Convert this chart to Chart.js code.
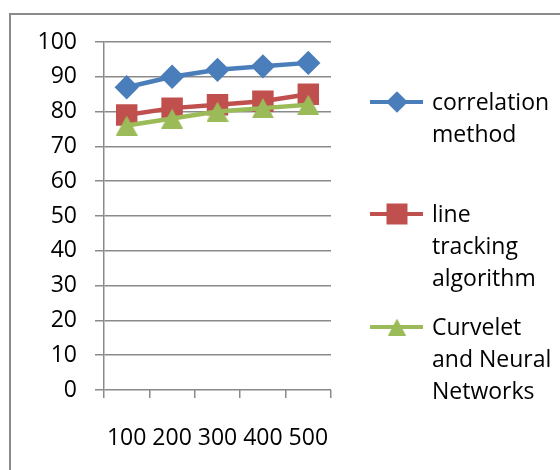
<!DOCTYPE html>
<html>
<head>
<meta charset="utf-8">
<script src="https://cdn.jsdelivr.net/npm/chart.js@4.4.1/dist/chart.umd.min.js"></script>
<style>
  html, body { margin: 0; padding: 0; background: #fff; }
  #wrap { width: 560px; height: 470px; }
</style>
</head>
<body>
<div id="wrap"><canvas id="myChart" width="560" height="470"></canvas></div>
<script>
// datos
const categories = ['100', '200', '300', '400', '500'];
const correlationMethod = [87, 90, 92, 93, 94];
const lineTracking = [79, 81, 82, 83, 85];
const curveletNeural = [76, 78, 80, 81, 82];
const legendLines = [
    ['correlation', 'method'],
    ['line', 'tracking', 'algorithm'],
    ['Curvelet', 'and Neural', 'Networks']
];

const FONT = "'Open Sans', sans-serif";

// triangulo centrado en su caja (como Excel)
function makeTriangle(color, w, h) {
    const cv = document.createElement('canvas');
    cv.width = w;
    cv.height = h;
    const c = cv.getContext('2d');
    c.fillStyle = color;
    c.beginPath();
    c.moveTo(w / 2, 0);
    c.lineTo(w, h);
    c.lineTo(0, h);
    c.closePath();
    c.fill();
    return cv;
}
const triPoint = makeTriangle('#9bbb59', 22, 20);
const triLegend = makeTriangle('#9bbb59', 18, 17);

// marco gris y leyenda a la derecha (multilinea)
const frameAndLegend = {
    id: 'frameAndLegend',
    beforeDraw(chart) {
        const c = chart.ctx;
        c.save();
        c.strokeStyle = '#8a8a8a';
        c.lineWidth = 2;
        c.beginPath();
        c.moveTo(10, 480);
        c.lineTo(10, 14);
        c.lineTo(570, 14);
        c.stroke();
        c.restore();
    },
    afterDraw(chart) {
        const c = chart.ctx;
        const tops = [103, 215, 328];
        const sizes = [8, 12, 10];
        c.save();
        chart.data.datasets.forEach((ds, i) => {
            const y = tops[i] - 1;
            c.strokeStyle = ds.borderColor;
            c.lineWidth = 4;
            c.beginPath();
            c.moveTo(370, y);
            c.lineTo(423, y);
            c.stroke();
            c.fillStyle = ds.borderColor;
            c.strokeStyle = ds.borderColor;
            const style = i === 2 ? triLegend : ds.pointStyle;
            Chart.helpers.drawPoint(c, { pointStyle: style, radius: sizes[i], rotation: 0, borderWidth: 1 }, 397, y);
            c.fillStyle = '#000';
            c.font = '23px ' + FONT;
            c.textBaseline = 'middle';
            c.textAlign = 'left';
            legendLines[i].forEach((t, k) => {
                c.fillText(t, 432, tops[i] + k * 32);
            });
        });
        c.restore();
    }
};

const ctx = document.getElementById('myChart');

new Chart(ctx, {
    type: 'line',
    data: {
        labels: categories,
        datasets: [{
            label: legendLines[0].join(' '),
            data: correlationMethod,
            order: 2,
            borderColor: '#4a7ebb',
            backgroundColor: '#4a7ebb',
            borderWidth: 4.5,
            pointStyle: 'rectRot',
            pointRadius: 9,
            pointHoverRadius: 9
        }, {
            label: legendLines[1].join(' '),
            data: lineTracking,
            order: 1,
            borderColor: '#c0504d',
            backgroundColor: '#c0504d',
            borderWidth: 4.5,
            pointStyle: 'rect',
            pointRadius: 12,
            pointHoverRadius: 12
        }, {
            label: legendLines[2].join(' '),
            data: curveletNeural,
            order: 0,
            borderColor: '#9bbb59',
            backgroundColor: '#9bbb59',
            borderWidth: 4.5,
            pointStyle: triPoint,
            pointRadius: 11,
            pointHoverRadius: 11
        }]
    },
    options: {
        responsive: false,
        animation: false,
        layout: { padding: { left: 0, right: 229, top: 42, bottom: 0 } },
        plugins: {
            legend: { display: false },
            tooltip: { enabled: false }
        },
        scales: {
            x: {
                offset: true,
                afterFit: s => { s.height = 80; },
                grid: {
                    offset: true,
                    drawOnChartArea: false,
                    drawTicks: true,
                    tickLength: 8,
                    color: '#8a8a8a',
                    lineWidth: 1.5
                },
                border: { display: false },
                ticks: {
                    color: '#000',
                    font: { family: FONT, size: 23 },
                    padding: 27,
                    maxRotation: 0,
                    autoSkip: false
                }
            },
            y: {
                min: 0,
                max: 100,
                afterFit: s => { s.width = 104; },
                grid: {
                    color: '#8a8a8a',
                    lineWidth: 1.5,
                    tickLength: 9
                },
                border: { color: '#8a8a8a', width: 1.5 },
                ticks: {
                    stepSize: 10,
                    color: '#000',
                    font: { family: FONT, size: 23 },
                    padding: 18
                }
            }
        }
    },
    plugins: [frameAndLegend]
});
</script>
</body>
</html>
